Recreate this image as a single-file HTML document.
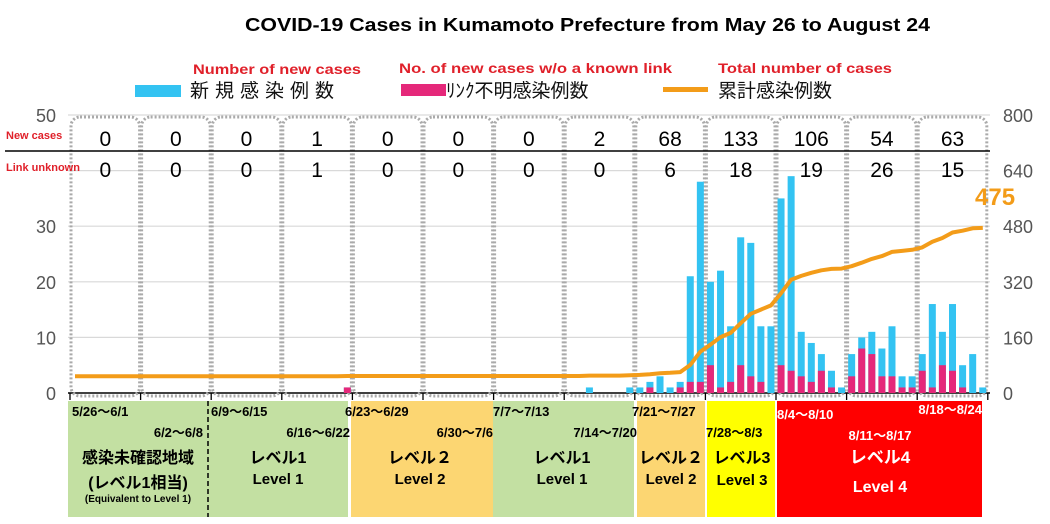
<!DOCTYPE html>
<html><head><meta charset="utf-8">
<style>
html,body{margin:0;padding:0;background:#fff;}
svg{display:block;font-family:"Liberation Sans","Noto Sans CJK JP",sans-serif;}
</style></head>
<body>
<svg id="chart" width="1050" height="524" viewBox="0 0 1050 524">
<text x="245" y="31" textLength="685" lengthAdjust="spacingAndGlyphs" font-size="18" font-weight="bold" fill="#000">COVID-19 Cases in Kumamoto Prefecture from May 26 to August 24</text>
<g>
 <text x="193" y="74" textLength="168" lengthAdjust="spacingAndGlyphs" font-size="14" font-weight="bold" fill="#e0202a">Number of new cases</text>
 <rect x="135" y="85" width="46" height="12" fill="#33c3f2"/>
 <text x="190" y="97" font-size="19" letter-spacing="6" fill="#111">新規感染例数</text>
 <text x="399" y="73" textLength="273" lengthAdjust="spacingAndGlyphs" font-size="14" font-weight="bold" fill="#e0202a">No. of new cases w/o a known link</text>
 <rect x="401" y="84" width="45" height="12" fill="#e5287a"/>
 <text x="446" y="97" font-size="19" fill="#111">ﾘﾝｸ不明感染例数</text>
 <text x="718" y="73" textLength="174" lengthAdjust="spacingAndGlyphs" font-size="14" font-weight="bold" fill="#e0202a">Total number of cases</text>
 <rect x="663" y="87" width="45" height="5" fill="#f39c19"/>
 <text x="718" y="97" font-size="19" fill="#111">累計感染例数</text>
</g>
<g id="grid"></g>
<g id="panels"></g>
<g id="boxes"></g>
<g id="bars"></g>
<g id="line"></g>
<g id="table"></g>
</svg>
<script>
const NS='http://www.w3.org/2000/svg';
const newCases=[0,0,0,0,0,0,0, 0,0,0,0,0,0,0, 0,0,0,0,0,0,0, 0,0,0,0,0,0,1, 0,0,0,0,0,0,0, 0,0,0,0,0,0,0, 0,0,0,0,0,0,0, 0,0,1,0,0,0,1,
 1,2,3,1,2,21,38, 20,22,12,28,27,12,12, 35,39,11,9,7,4,1, 7,10,11,8,12,3,3, 7,16,11,16,5,7,1];
const unknownCases=[0,0,0,0,0,0,0, 0,0,0,0,0,0,0, 0,0,0,0,0,0,0, 0,0,0,0,0,0,1, 0,0,0,0,0,0,0, 0,0,0,0,0,0,0, 0,0,0,0,0,0,0, 0,0,0,0,0,0,0,
 0,1,0,0,1,2,2, 5,1,2,5,3,2,0, 5,4,3,2,4,1,0, 3,8,7,3,3,1,1, 4,1,5,4,1,0,0];
const baseTotal=48;
const weekNew=['0','0','0','1','0','0','0','2','68','133','106','54','63'];
const weekUnknown=['0','0','0','1','0','0','0','0','6','18','19','26','15'];
const gridTicks=[0,10,20,30,40,50];
const leftTicks=[0,10,20,30,50];
const rightTicks=[0,160,320,480,640,800];

const X0=70, WEEK=70.6, DAY=WEEK/7, Y0=393, YTOP=115;
const y=v=>Y0-v/50*(Y0-YTOP);
const yR=v=>Y0-v/800*(Y0-YTOP);
const xd=i=>X0+DAY*(i+0.5);
function mk(tag,attrs,parent,txt){const e=document.createElementNS(NS,tag);for(const k in attrs)e.setAttribute(k,attrs[k]);if(txt!==undefined)e.textContent=txt;parent.appendChild(e);return e;}

const grid=document.getElementById('grid');
gridTicks.forEach(t=>{
  const l=mk('line',{x1:68,x2:990,y1:y(t),y2:y(t),stroke:t===0?'#000':'#d9d9d9','stroke-width':t===0?1.5:1.2},grid);
  
  
});
leftTicks.forEach(t=>{
  const tx=mk('text',{x:56,y:y(t)+7,'text-anchor':'end','font-size':18,fill:'#555'},grid,String(t));
  
  
});
rightTicks.forEach(t=>{
  const tx=mk('text',{x:1003,y:yR(t)+7,'font-size':18,fill:'#555'},grid,String(t));
  
  
});
for(let w=0;w<=13;w++){
  const tk=mk('line',{x1:X0+w*WEEK,x2:X0+w*WEEK,y1:Y0,y2:Y0+7,stroke:'#000','stroke-width':1.3},grid);
  
  
}

const panels=document.getElementById('panels');
[[68,348,'#c3e0a2'],[351,493,'#fcd672'],[493,634,'#c3e0a2'],[637,705,'#fcd672'],[707,775,'#ffff00'],[777,982,'#ff0000']].forEach(p=>{
  const r=mk('rect',{x:p[0],y:401,width:p[1]-p[0],height:116,fill:p[2]},panels);
  
  
});
const dl=mk('line',{x1:208,x2:208,y1:401,y2:517,stroke:'#000','stroke-width':1.5,'stroke-dasharray':'5,3'},panels);


const labs=[[72,416,'start','5/26～6/1','#000',13],[203,437,'end','6/2～6/8','#000',13],[211,416,'start','6/9～6/15','#000',13],[350,437,'end','6/16～6/22','#000',13],[345,416,'start','6/23～6/29','#000',13],[493,437,'end','6/30～7/6','#000',13],[493,416,'start','7/7～7/13','#000',13],[637,437,'end','7/14～7/20','#000',13],[632,416,'start','7/21～7/27','#000',13],[706,437,'start','7/28～8/3','#000',13],[777,419,'start','8/4～8/10','#fff',13],[982,414,'end','8/18～8/24','#fff',13],[880,440,'middle','8/11～8/17','#fff',13],
[138,463,'middle','感染未確認地域','#000',16],[138,488,'middle','(レベル1相当)','#000',16],[138,502,'middle','(Equivalent to Level 1)','#000',10],
[278,463,'middle','レベル1','#000',16],[278,484,'middle','Level 1','#000',15],
[420,463,'middle','レベル２','#000',16],[420,484,'middle','Level 2','#000',15],
[562,463,'middle','レベル1','#000',16],[562,484,'middle','Level 1','#000',15],
[671,463,'middle','レベル２','#000',16],[671,484,'middle','Level 2','#000',15],
[742,463,'middle','レベル3','#000',16],[742,485,'middle','Level 3','#000',15],
[880,463,'middle','レベル4','#fff',17],[880,492,'middle','Level 4','#fff',16]];
labs.forEach(l=>{
  const t=mk('text',{x:l[0],y:l[1],'text-anchor':l[2],'font-size':l[5],'font-weight':'bold',fill:l[4]},panels,l[3]);
  
  
});

const boxes=document.getElementById('boxes');
for(let w=0;w<13;w++){
  const r=mk('rect',{x:X0+w*WEEK+1,y:117,width:WEEK-2,height:Y0+3-117,rx:9,fill:'none',stroke:'#aaa','stroke-width':3,'stroke-dasharray':'2,2'},boxes);
  
  
}

const bars=document.getElementById('bars');
const bw=7;
newCases.forEach((v,i)=>{
  if(v>0){const b=mk('rect',{x:xd(i)-bw/2,y:y(v),width:bw,height:Y0-y(v),fill:'#33c3f2'},bars);
  
  }
  const u=unknownCases[i];
  if(u>0){const r=mk('rect',{x:xd(i)-bw/2,y:y(u),width:bw,height:Y0-y(u),fill:'#e5287a'},bars);
  
  }
});

let cum=baseTotal;const pts=[];
newCases.forEach((v,i)=>{cum+=v;pts.push(xd(i).toFixed(1)+','+yR(cum).toFixed(1));});
const ln=mk('polyline',{points:pts.join(' '),fill:'none',stroke:'#f39c19','stroke-width':4,'stroke-linejoin':'round'},document.getElementById('line'));


const tl=mk('text',{x:975,y:205,'font-size':24,'font-weight':'bold',fill:'#f39c19'},document.getElementById('line'),String(cum));



const tb=document.getElementById('table');
const hl=mk('line',{x1:5,x2:990,y1:151,y2:151,stroke:'#000','stroke-width':1.5},tb);


const h1=mk('text',{x:6,y:139,'font-size':11,'font-weight':'bold',fill:'#e0202a'},tb,'New cases');


const h2=mk('text',{x:6,y:171,'font-size':11,'font-weight':'bold',fill:'#e0202a'},tb,'Link unknown');


weekNew.forEach((s,w)=>{
  const t=mk('text',{x:X0+w*WEEK+WEEK/2,y:146,'text-anchor':'middle','font-size':21,fill:'#000'},tb,s);
  
  
  const t2=mk('text',{x:X0+w*WEEK+WEEK/2,y:177,'text-anchor':'middle','font-size':21,fill:'#000'},tb,weekUnknown[w]);
  
  
});
</script>
</body></html>
